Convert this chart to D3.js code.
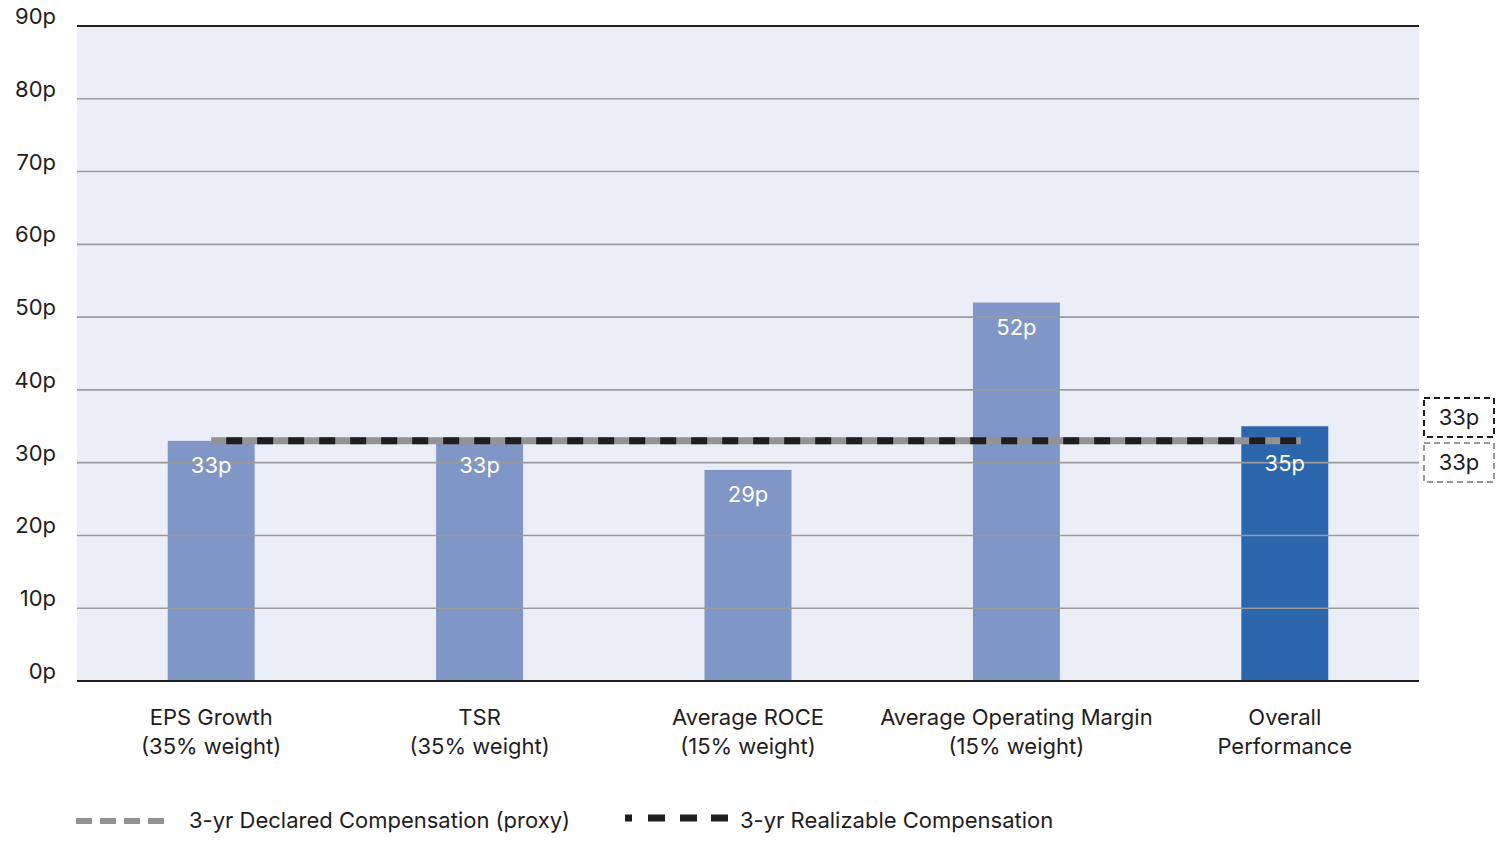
<!DOCTYPE html>
<html><head><meta charset="utf-8">
<script src="https://cdn.jsdelivr.net/npm/d3@7"></script>
<style>body{margin:0;background:#fff}svg text{font-family:"Inter","Open Sans",sans-serif;}</style>
</head><body><svg id="c" width="1500" height="846"></svg>
<script>
const categories = [["EPS Growth","(35% weight)"],["TSR","(35% weight)"],["Average ROCE","(15% weight)"],["Average Operating Margin","(15% weight)"],["Overall","Performance"]];
const barValues = [33,33,29,52,35];
const declared = 33;
const realizable = 33;
const yTicks = [0,10,20,30,40,50,60,70,80,90];
const legendLabels = ["3-yr Declared Compensation (proxy)","3-yr Realizable Compensation"];

const svg = d3.select("#c");
const L=77,R=1419,T=26,B=681;
const x = d3.scaleBand().domain(d3.range(categories.length)).range([L,R]).paddingInner(0.676).paddingOuter(0.338);
const y = d3.scaleLinear().domain([0,90]).range([B,T]);

svg.append("rect").attr("x",L).attr("y",T).attr("width",R-L).attr("height",B-T).attr("fill","#EBEEF6");
svg.append("line").attr("x1",L).attr("x2",R).attr("y1",y(90)).attr("y2",y(90)).attr("stroke","#1f1d1e").attr("stroke-width",1.8);

// bars
barValues.forEach((v,i)=>{
  svg.append("rect").attr("x",x(i)).attr("width",x.bandwidth()).attr("y",y(v)).attr("height",y(0)-y(v))
    .attr("fill", i===barValues.length-1 ? "#2C66AC" : "#7F96C6");
});
// gridlines visible through bars
yTicks.forEach(t=>{
  if(t===0||t===90) return;
  svg.append("line").attr("x1",L).attr("x2",R).attr("y1",y(t)).attr("y2",y(t)).attr("stroke","#9a9a9c").attr("stroke-width",1.6);
});
svg.append("line").attr("x1",L).attr("x2",R).attr("y1",B).attr("y2",B).attr("stroke","#1f1d1e").attr("stroke-width",2);

// bar labels (pushed below the reference line when the bar top sits near it)
barValues.forEach((v,i)=>{
  let ly = y(v)+32;
  if (Math.abs(v-declared) < 4) ly = Math.max(ly, y(declared)+30);
  svg.append("text").attr("x",x(i)+x.bandwidth()/2).attr("y",ly).attr("text-anchor","middle")
    .attr("fill","#fff").attr("font-size",22).text(v+"p");
});

// reference lines
const x0 = x(0)+x.bandwidth()/2, x1 = x(4)+x.bandwidth()/2+16;
svg.append("line").attr("x1",x0).attr("x2",x1).attr("y1",y(declared)).attr("y2",y(declared))
  .attr("stroke","#939395").attr("stroke-width",7);
svg.append("line").attr("x1",x0).attr("x2",x1).attr("y1",y(realizable)).attr("y2",y(realizable))
  .attr("stroke","#1f1d1e").attr("stroke-width",7).attr("stroke-dasharray","16,15").attr("stroke-dashoffset",-15);

// y tick labels
yTicks.forEach(t=>{
  svg.append("text").attr("x",56).attr("y",y(t)-2).attr("text-anchor","end").attr("font-size",22).attr("fill","#1f1d1e").text(t+"p");
});

// category labels
categories.forEach((c,i)=>{
  const cx = x(i)+x.bandwidth()/2;
  c.forEach((line,j)=>{
    svg.append("text").attr("x",cx).attr("y",725+j*29).attr("text-anchor","middle").attr("font-size",22).attr("fill","#1f1d1e").text(line);
  });
});

// right side boxes
svg.append("rect").attr("x",1424).attr("y",398).attr("width",70).attr("height",39).attr("fill","#fff")
  .attr("stroke","#1f1d1e").attr("stroke-width",2).attr("stroke-dasharray","6,4");
svg.append("text").attr("x",1459).attr("y",425).attr("text-anchor","middle").attr("font-size",22).attr("fill","#1f1d1e").text(realizable+"p");
svg.append("rect").attr("x",1424).attr("y",443).attr("width",70).attr("height",39).attr("fill","#fff")
  .attr("stroke","#9a9a9c").attr("stroke-width",2).attr("stroke-dasharray","6,4");
svg.append("text").attr("x",1459).attr("y",470).attr("text-anchor","middle").attr("font-size",22).attr("fill","#1f1d1e").text(declared+"p");

// legend
svg.append("line").attr("x1",76).attr("x2",172).attr("y1",821).attr("y2",821).attr("stroke","#939395").attr("stroke-width",6).attr("stroke-dasharray","16,8");
svg.append("text").attr("x",189).attr("y",828).attr("font-size",22).attr("fill","#1f1d1e").text(legendLabels[0]);
svg.append("line").attr("x1",625).attr("x2",728).attr("y1",818).attr("y2",818).attr("stroke","#1f1d1e").attr("stroke-width",7).attr("stroke-dasharray","7,16,17,15,17,14,17,0");
svg.append("text").attr("x",740).attr("y",828).attr("font-size",22).attr("fill","#1f1d1e").text(legendLabels[1]);
</script></body></html>
